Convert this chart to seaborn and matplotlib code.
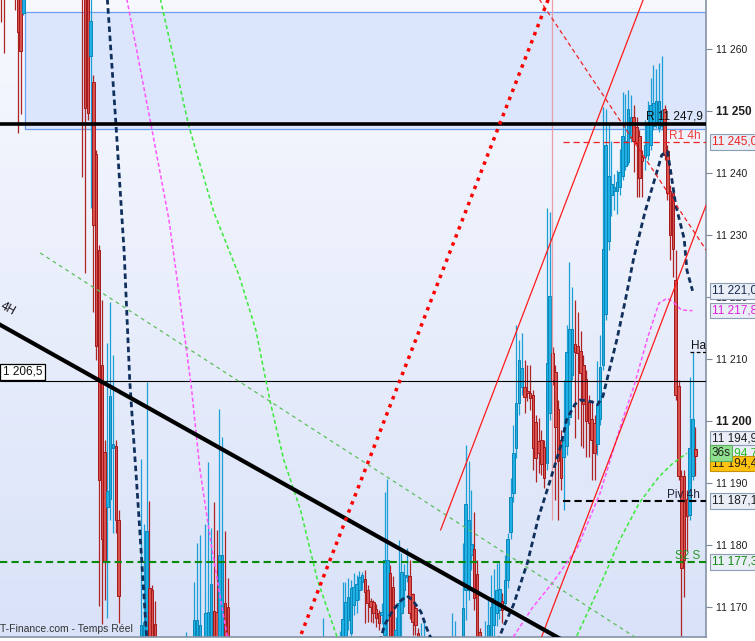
import numpy as np
import pandas as pd
import matplotlib
matplotlib.use('Agg')
import matplotlib.pyplot as plt
import matplotlib.transforms as mtransforms
from matplotlib.colors import LinearSegmentedColormap
from matplotlib.patches import Rectangle
import seaborn as sns

# ---- candles (bar slot, open, high, low, close) ----
bars = ([0, 1, 5, 6, 7, 8]
        + list(range(29, 43))
        + list(range(50, 56))
        + [66, 69, 70, 71, 73, 74, 75, 76, 77, 78, 79, 80, 81, 115]
        + list(range(121, 152))
        + [161, 162, 165, 166, 167, 168, 169, 170, 171] + list(range(173, 199))
        + list(range(199, 249)))

opens = ([11285, 11285, 11285, 11280, 11275, 11265.8]
         + [11290, 11285, 11278, 11258.9, 11254.7, 11243.1, 11227.6, 11209.0, 11195.0, 11186.1, 11187.4, 11195.6, 11196.0, 11184.0]
         + [11160, 11160, 11160, 11173.1, 11172.8, 11167.2]
         + [11160, 11160, 11160, 11160, 11160, 11160, 11160, 11169.3, 11169.2, 11160, 11160, 11170.6, 11170.0, 11160]
         + [11160, 11160, 11163, 11167.9, 11165.8, 11170.3, 11171.1, 11172.8, 11174.1, 11174.5, 11172.8, 11171.0, 11170.8,
            11169.7, 11169.0, 11168.7, 11165.5, 11167.9, 11175.5, 11173.2, 11160, 11162, 11169.0, 11172.8, 11174.9, 11175.0,
            11172.1, 11169.9, 11165.8, 11160, 11160]
         + [11160, 11160, 11160, 11172.8, 11172.8, 11178.4, 11179.3, 11175.3, 11166.0, 11160, 11160, 11162, 11167.1, 11169.0,
            11169.5, 11171.0, 11170.6, 11174.4, 11182.1, 11188.4, 11195.6, 11202.9, 11205.5, 11205.5, 11204.8, 11204.5,
            11204.2, 11199.8, 11196.8, 11196.9, 11195.8, 11193.2, 11201.3, 11211.0, 11207.9]
         + [11202.0, 11196.9, 11194.2, 11196.0, 11200.6, 11207.4, 11212.4, 11212.1, 11211.3, 11209.0, 11206.8, 11203.1,
            11200.3, 11199.7, 11196.3, 11200.3, 11209.0, 11217.3, 11229.0, 11236.5, 11237.1, 11237.1, 11237.7, 11239.5,
            11241.1, 11241.8, 11245.6, 11249.0, 11247.4, 11245.9, 11242.6, 11242.6, 11242.9, 11244.5, 11247.6, 11247.9,
            11247.3, 11247.6, 11250.3, 11243.5, 11237.1, 11236.8, 11222.7, 11205.6, 11191.1, 11191.1, 11187.4, 11184.8,
            11191.1, 11195.5])

highs = ([11290, 11290, 11290, 11285, 11280, 11280]
         + [11292, 11288, 11282, 11272, 11255.8, 11243.7, 11228.4, 11219.5, 11196.9, 11212.6, 11219.2, 11210.6, 11196.9, 11185.7]
         + [11193.9, 11183.4, 11206.3, 11187.1, 11173.6, 11171.0]
         + [11166.0, 11174.0, 11180.3, 11181.6, 11183.4, 11193.4, 11182.7, 11187.0, 11182.4, 11201.9, 11197.4, 11182.3, 11174.7, 11168.2]
         + [11166.1, 11174.0, 11174.0, 11174.7, 11174.4, 11175.5, 11175.2, 11175.8, 11175.7, 11176.0, 11173.5, 11171.5, 11171.1,
            11170.5, 11169.5, 11170.7, 11188.6, 11190.7, 11176.8, 11175.0, 11168.4, 11180.8, 11178.7, 11177.0, 11179.5, 11177.5,
            11172.3, 11170.5, 11166.6, 11167.4, 11168.1]
         + [11169.0, 11167.7, 11180.3, 11196.1, 11193.6, 11188.9, 11185.3, 11177.6, 11166.6, 11167.7, 11171.5, 11175.2, 11176.1,
            11177.1, 11177.3, 11172.3, 11178.4, 11181.9, 11190.8, 11199.3, 11215.5, 11213.1, 11214.2, 11209.8, 11209.0, 11209.0,
            11205.0, 11200.9, 11200.5, 11198.6, 11196.9, 11234.4, 11233.7, 11211.9, 11209.0]
         + [11203.4, 11198.6, 11206.6, 11215.5, 11225.6, 11221.6, 11219.5, 11217.6, 11214.5, 11210.6, 11208.2, 11204.2,
            11203.4, 11200.9, 11209.7, 11213.9, 11250.6, 11250.3, 11247.9, 11245.2, 11239.8, 11240.5, 11243.9, 11253.1,
            11252.7, 11253.4, 11252.6, 11250.9, 11249.0, 11246.9, 11243.7, 11248.5, 11251.6, 11255.3, 11257.4, 11256.8,
            11257.7, 11258.9, 11250.9, 11244.5, 11238.0, 11237.3, 11227.6, 11206.6, 11192.1, 11192.1, 11188.9, 11207.1,
            11211.1, 11199.0])

lows = ([11264.3, 11259.4, 11266.3, 11246.4, 11249.5, 11265.5]
        + [11239.4, 11223.9, 11248.5, 11234.4, 11217.6, 11209.8, 11170.2, 11167.2, 11171.1, 11168.2, 11184.0, 11181.9, 11182.0, 11167.4]
        + [11155, 11155, 11155, 11155, 11155, 11155]
        + [11155] * 14
        + [11155, 11155, 11160, 11166.3, 11163, 11168.7, 11169, 11171.1, 11172.8, 11167.4, 11167.6, 11167.6, 11167.4,
           11166.8, 11166.3, 11167.2, 11160, 11160, 11155, 11155, 11155, 11158, 11165, 11170, 11174, 11168,
           11165.5, 11165.5, 11155, 11155, 11155]
        + [11155, 11155, 11155, 11167.9, 11171.1, 11176.0, 11169.5, 11155, 11155, 11155, 11155, 11158, 11165, 11167,
           11168, 11167.4, 11169.5, 11173, 11181, 11187, 11194, 11201, 11204.2, 11201.3, 11203.2, 11201.8,
           11192.1, 11190.2, 11191.6, 11191.3, 11189.2, 11192.1, 11200.2, 11205.8, 11187.3]
        + [11184.0, 11188.9, 11185.7, 11194.5, 11199.3, 11206.6, 11197.2, 11200.3, 11196.0, 11195.6, 11194.2, 11194.2,
           11190.5, 11190.5, 11194.5, 11199.3, 11208.2, 11216.3, 11227.6, 11233.1, 11234.0, 11233.4, 11236.5, 11238.9,
           11240.5, 11241.3, 11245.0, 11240.2, 11236.1, 11236.1, 11236.1, 11240.5, 11242.1, 11243.7, 11246.9, 11247.3,
           11246.6, 11246.9, 11242.1, 11235.6, 11226.0, 11223.2, 11203.4, 11190.5, 11164.8, 11171.6, 11179.0, 11184.0,
           11190.5, 11191.1])

closes = ([11275, 11272, 11275, 11262.7, 11259.7, 11275]
          + [11280, 11250.5, 11249.7, 11264.5, 11231.6, 11212.1, 11190.5, 11181.0, 11177.3, 11188.7, 11204.0, 11196.3, 11184.0, 11171.8]
          + [11167.1, 11167.6, 11182.3, 11160, 11160, 11160]
          + [11164, 11167.9, 11167.9, 11167.1, 11169.0, 11169.2, 11173.7, 11160, 11160, 11178.4, 11178.4, 11160, 11160, 11163]
          + [11164, 11168.1, 11170.8, 11171.6, 11173.1, 11173.2, 11173.7, 11174.9, 11175.2, 11172.4, 11170.7, 11170.0, 11169.0,
             11168.2, 11167.4, 11169.2, 11177.5, 11177.5, 11160, 11160, 11166.3, 11170.7, 11175.7, 11175.2, 11175.2, 11169.0,
             11167.6, 11167.1, 11160, 11164, 11163]
          + [11163, 11163, 11169.9, 11186.6, 11184.0, 11180.2, 11171.5, 11160, 11160, 11164, 11167.1, 11170.0, 11171.5,
             11172.8, 11172.9, 11169.5, 11174.4, 11181.0, 11187.7, 11194.8, 11202.9, 11209.8, 11208.5, 11203.9, 11204.5, 11203.7,
             11195.6, 11194.0, 11194.8, 11193.1, 11190.8, 11209.4, 11220.2, 11206.6, 11199.0]
          + [11193.5, 11190.8, 11196.9, 11211.1, 11214.8, 11214.8, 11211.1, 11211.0, 11207.7, 11202.7, 11200.0, 11199.7,
             11196.9, 11194.8, 11202.7, 11208.7, 11227.7, 11244.5, 11239.5, 11238.2, 11237.7, 11238.6, 11240.2, 11246.0,
             11245.2, 11250.3, 11249.0, 11245.2, 11244.8, 11239.2, 11241.9, 11244.5, 11247.9, 11251.0, 11251.3, 11251.6,
             11251.6, 11250.2, 11242.9, 11236.8, 11230.0, 11227.7, 11204.2, 11191.1, 11176.3, 11177.6, 11184.7, 11195.7,
             11200.3, 11194.4])

# ---- moving averages ----
navy_bars = [[37, 38, 41, 44, 46, 49, 52, 54],
             [135, 137, 140, 143, 145, 147, 150, 152, 154],
             [177, 179, 183, 188, 192, 196, 200, 202, 205, 207, 211, 213, 215, 217, 220, 223, 226, 230, 234, 236, 238,
              239, 241, 244, 245, 247]]
navy_vals = [[11274.4, 11267.9, 11248.2, 11227.1, 11206.3, 11186.3, 11165.2, 11158.2],
             [11163.9, 11167.1, 11169.5, 11171.1, 11171.8, 11171.1, 11169.2, 11166.6, 11164.5],
             [11163.9, 11166.3, 11170.3, 11177.1, 11184.5, 11190.2, 11196.1, 11200.2, 11202.7, 11203.4, 11203.1, 11202.6,
              11204.0, 11207.7, 11213.2, 11219.5, 11226.3, 11233.7, 11239.8, 11242.9, 11243.5, 11240.8, 11234.8, 11229.4,
              11224.3, 11221.0]]
pink_bars = [[43, 45, 54, 60, 64, 68, 71, 75, 79, 81, 83],
             [180, 183, 190, 197, 202, 206, 214, 222, 226, 231, 235, 238, 240, 243, 247]]
pink_vals = [[11272.9, 11267.9, 11246.8, 11232.4, 11219.2, 11205.4, 11192.3, 11180.3, 11169.8, 11164.7, 11160.6],
             [11163.4, 11165.2, 11170.0, 11173.9, 11177.1, 11179.7, 11188.4, 11200.2, 11205.5, 11213.5, 11219.0, 11219.8,
              11219.2, 11217.9, 11217.8]]
lime_bars = [[53, 57, 67, 76, 85, 91, 96, 101, 107, 113, 120, 123],
             [203, 205, 214, 221, 228, 235, 240, 245]]
lime_vals = [[11274.4, 11267.9, 11247.7, 11233.7, 11223.5, 11214.7, 11203.4, 11193.7, 11185.6, 11174.4, 11165.2, 11160.6],
             [11162.5, 11164.7, 11173.5, 11180.8, 11186.8, 11191.0, 11193.2, 11194.8]]

# ---- drawn trendlines (bar, price end points) ----
trend_black = ([-5, 200], [11216.7, 11164.8])
trend_dotted = ([104, 197], [11161.9, 11269.8])
channel_top = ([157, 230], [11182.4, 11268.7])
channel_low = ([192, 253], [11163.9, 11236.2])
trend_red_dash = ([192, 253], [11268.2, 11226.8])
trend_lime = ([14, 230], [11227.1, 11164.1])

# ---- levels ----
zone_low, zone_high, zone_start = 11247.1, 11266.0, 8.6
r_level = 11247.9
r1_4h = 11245.0
ref_level = 11206.5
ha_level = 11211.1
piv_4h = 11187.1
s2_level = 11177.3
pivot_start = 200.7
session_bar = 196.8
last_price = 11194.4

yticks = [11170, 11180, 11190, 11200, 11210, 11220, 11230, 11240, 11250, 11260]
bold_ticks = [11200, 11250]

df = pd.DataFrame({'bar': bars, 'open': opens, 'high': highs, 'low': lows, 'close': closes})
up = (df['close'] >= df['open']).values

sns.set_style('white')
plt.rcParams['font.family'] = ['Liberation Sans', 'DejaVu Sans']

fig = plt.figure(figsize=(7.55, 6.41), dpi=100)
ax = fig.add_axes([0, 4 / 641, 706 / 755, 637 / 641])

XMIN, XMAX = -0.36, 251.8
YMIN, YMAX = 11165.16, 11267.9

bg = LinearSegmentedColormap.from_list('bg', ['#f7f9fe', '#d9e2f8'])
ax.imshow(np.linspace(0, 1, 256).reshape(-1, 1), cmap=bg, aspect='auto',
          extent=[XMIN, XMAX, YMIN, YMAX], origin='upper', zorder=0)
ax.add_patch(Rectangle((zone_start, zone_low), XMAX - zone_start + 5, zone_high - zone_low,
                       fc='#dbe5fb', ec='#6e9ef0', lw=0.9, zorder=0.5))

# candles
ax.vlines(df['bar'], df['low'], df['high'], colors=np.where(up, '#1a9fd6', '#b02323'), lw=0.9, zorder=2)
ax.bar(df['bar'], df['close'] - df['open'], bottom=df['open'], width=0.92,
       color=np.where(up, '#1fb0e6', '#da524e'), edgecolor=np.where(up, '#0b86b8', '#a3191b'),
       linewidth=0.7, zorder=2.2)

ax.vlines(session_bar, 11184.0, YMAX + 5, colors='#e8a0a8', lw=0.9, zorder=2.5)


def line(xs, ys, **kw):
    sns.lineplot(x=xs, y=ys, ax=ax, estimator=None, sort=False, errorbar=None, legend=False, **kw)


# horizontal levels
ax.axhline(ref_level, color='black', lw=0.8, zorder=3)
ax.axhline(s2_level, color='#0a8a0a', lw=1.5, linestyle=(0, (3.5, 2)), zorder=3)
ax.hlines(piv_4h, pivot_start, XMAX + 5, color='black', lw=1.5, linestyles=[(0, (3.5, 2))], zorder=3)
ax.hlines(r1_4h, pivot_start, XMAX + 5, color='#ee2222', lw=0.9, linestyles=[(0, (5, 3))], zorder=3)
ax.hlines(ha_level, 246, XMAX + 5, color='black', lw=0.9, linestyles=[(0, (3, 2))], zorder=3)

# moving averages
for xs, ys in zip(lime_bars, lime_vals):
    line(xs, ys, color='#3be83b', linewidth=1.1, linestyle=(0, (2.6, 1.8)), zorder=3.3)
for xs, ys in zip(pink_bars, pink_vals):
    line(xs, ys, color='#ff55ff', linewidth=1.1, linestyle=(0, (2.6, 1.6)), zorder=3.4)
for xs, ys in zip(navy_bars, navy_vals):
    line(xs, ys, color='#0f2f5c', linewidth=2.0, linestyle=(0, (2.0, 1.3)), zorder=3.5)

# trendlines
line(*trend_lime, color='#5cbf5c', linewidth=0.9, linestyle=(0, (3, 3)), zorder=3.6)
line(*trend_red_dash, color='#ee2222', linewidth=0.9, linestyle=(0, (3.5, 2.5)), zorder=3.6)
line(*channel_top, color='#ff1a1a', linewidth=0.9, zorder=3.7)
line(*channel_low, color='#ff1a1a', linewidth=0.9, zorder=3.7)
ax.axhline(r_level, color='black', lw=2.6, zorder=3.8)
line(*trend_black, color='black', linewidth=3.0, zorder=3.9)
line(*trend_dotted, color='#ff0000', linewidth=2.5, linestyle=(0, (1, 1.5)), zorder=4)

ax.set_xlim(XMIN, XMAX)
ax.set_ylim(YMIN, YMAX)
ax.set_xlabel('')
ax.set_ylabel('')

blend = mtransforms.blended_transform_factory(ax.transAxes, ax.transData)

# labels inside the plot
ax.annotate('R 11 247,9', xy=(0.996, r_level), xycoords=blend, xytext=(0, 3), textcoords='offset points',
            ha='right', va='baseline', fontsize=8.5, color='#111111', zorder=6)
ax.annotate('R1 4h', xy=(0.993, r1_4h), xycoords=blend, xytext=(0, 2), textcoords='offset points',
            ha='right', va='baseline', fontsize=8.5, color='#f03a3a', zorder=6)
ax.annotate('Piv 4h', xy=(0.992, piv_4h), xycoords=blend, xytext=(0, 2), textcoords='offset points',
            ha='right', va='baseline', fontsize=8.5, color='#22223a', zorder=6)
ax.annotate('S2 S', xy=(0.992, s2_level), xycoords=blend, xytext=(0, 2), textcoords='offset points',
            ha='right', va='baseline', fontsize=8.5, color='#2a9a2a', zorder=6)
ax.annotate('Ha', xy=(246, ha_level), xycoords='data', xytext=(1, 2), textcoords='offset points',
            ha='left', va='baseline', fontsize=8.5, color='#111111', zorder=6, annotation_clip=False, clip_on=True)
ax.annotate('1 206,5', xy=(0, ref_level), xycoords=blend, xytext=(2, 2), textcoords='offset points',
            ha='left', va='bottom', fontsize=8.5, color='#111111', zorder=6,
            bbox=dict(boxstyle='square,pad=0.2', fc='white', ec='black', lw=0.9))
ax.text(3.9, 11216.6, '4H', rotation=-29, rotation_mode='anchor', ha='right', va='bottom',
        fontsize=8.5, color='#111111', zorder=6)
ax.text(0.0, 0.004, 'T-Finance.com - Temps Réel', transform=ax.transAxes, ha='left', va='bottom',
        fontsize=7.5, color='#333333', zorder=6)

# right axis
ax.yaxis.tick_right()
ax.set_yticks(yticks)
ax.set_yticklabels([f'{t:,}'.replace(',', ' ') for t in yticks])
ax.set_xticks([])
ax.tick_params(axis='y', right=True, length=4.5, width=0.8, color='#7f8896', pad=3,
               labelsize=7.5, labelcolor='#1e1e1e', direction='out')
for lbl, t in zip(ax.get_yticklabels(), yticks):
    if t in bold_ticks:
        lbl.set_fontweight('bold')
        lbl.set_fontsize(8.5)
for side in ['left', 'top']:
    ax.spines[side].set_visible(False)
for side in ['right', 'bottom']:
    ax.spines[side].set_color('#8592a6')
    ax.spines[side].set_linewidth(1.2)


def axis_box(val, text, tc, fc='#e9eef7', ec='#8d9db3', dy=0, z=6):
    ax.annotate(text, xy=(1.0, val), xycoords=blend, xytext=(4, dy), textcoords='offset points',
                ha='left', va='center', fontsize=8.5, color=tc, zorder=z, annotation_clip=False,
                bbox=dict(boxstyle='square,pad=0.15', fc=fc, ec=ec, lw=0.8))


axis_box(r1_4h, '11 245,0', '#ee2222')
axis_box(navy_vals[2][-1], '11 221,0', '#1a2b50')
axis_box(pink_vals[1][-1], '11 217,8', '#e020e0')
axis_box(11194.9, '11 194,9', '#1e1e1e', dy=10)
axis_box(lime_vals[1][-1], '11 194,7', '#22bb22', z=6)
axis_box(last_price, '11 194,4', '#1e1e1e', fc='#ffc20e', ec='#c89000', dy=-5.5, z=7)
axis_box(lime_vals[1][-1], '36s', '#1e1e1e', fc='#8fe08f', ec='#5cae5c', z=8)
axis_box(piv_4h, '11 187,1', '#1e1e1e')
axis_box(s2_level, '11 177,3', '#118811')

fig.savefig('out.png', dpi=100)
